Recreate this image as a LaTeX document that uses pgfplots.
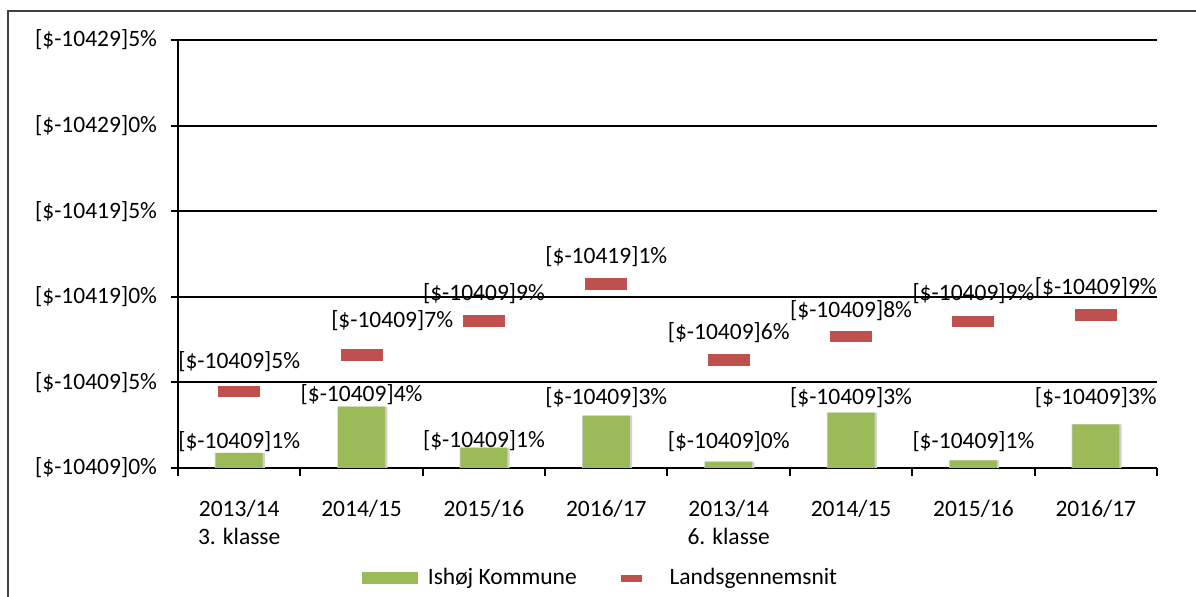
\documentclass[border=0pt]{standalone}
\usepackage{fontspec}
\setmainfont{Carlito}
\usepackage{pgfplots}
\pgfplotsset{compat=1.18}
\definecolor{barGreen}{HTML}{9BBB59}
\definecolor{barRed}{HTML}{C0504D}
\definecolor{frameGray}{HTML}{404040}
\pgfdeclareplotmark{redbar}{\pgfpathrectangle{\pgfpoint{-10.5pt}{-2.9pt}}{\pgfpoint{21pt}{5.8pt}}\pgfusepathqfill}
\newcommand{\lf}{\fontsize{11.75}{14}\selectfont}
\begin{document}
\begin{tikzpicture}
\useasboundingbox (0,0) rectangle (598pt,298.5pt);
\draw[frameGray, line width=1pt] (4pt,-2pt) -- (4pt,293pt) -- (600pt,293pt);
\begin{axis}[
  at={(89pt,64.5pt)}, anchor=south west,
  scale only axis, width=489.5pt, height=214pt,
  xmin=-0.5, xmax=7.5, ymin=0, ymax=25,
  axis lines*=left,
  axis line style={black, line width=1pt},
  tick align=outside,
  major tick length=3.5pt, minor tick length=4pt,
  tick style={black, line width=1pt},
  major x tick style={draw=none},
  xtick={0,1,2,3,4,5,6,7},
  minor xtick={-0.5,0.5,1.5,2.5,3.5,4.5,5.5,6.5,7.5},
  xticklabels={{2013/14\\3. klasse},{2014/15},{2015/16},{2016/17},{2013/14\\6. klasse},{2014/15},{2015/16},{2016/17}},
  xticklabel style={align=center, anchor=north, yshift=-9pt, font=\lf},
  ytick={0,5,10,15,20,25},
  yticklabels={{[\$-10409]0\%},{[\$-10409]5\%},{[\$-10419]0\%},{[\$-10419]5\%},{[\$-10429]0\%},{[\$-10429]5\%}},
  yticklabel style={font=\lf, anchor=east, xshift=-3.5pt},
  ymajorgrids, grid style={black, line width=1pt},
  clip=false,
  legend columns=2,
  legend style={at={(0.4326,-0.257)}, anchor=center, draw=none, fill=none, font=\lf,
    /tikz/every even column/.append style={column sep=11pt}},
  legend cell align=left,
]
\addplot[ybar, bar width=25pt, bar shift=0.4pt, fill=black!18, draw=none, forget plot] table {
x y
0 0.89
1 3.58
2 1.19
3 3.06
4 0.37
5 3.23
6 0.45
7 2.55
};
\addplot[ybar, bar width=23.5pt, bar shift=0pt, fill=barGreen, draw=none,
  legend image code/.code={\path (0pt,0pt) (31pt,0pt); \fill[barGreen] (0pt,-3pt) rectangle (28pt,3pt);}] table {
x y
0 0.89
1 3.58
2 1.19
3 3.06
4 0.37
5 3.23
6 0.45
7 2.55
};
\addlegendentry{Ishøj Kommune}
\addplot[only marks, mark=redbar, color=barRed,
  legend image code/.code={\path (0pt,0pt) (31pt,0pt); \fill[barRed] (9pt,-1.5pt) rectangle (19pt,1.5pt);}] table {
x y
0 4.47
1 6.61
2 8.57
3 10.76
4 6.32
5 7.67
6 8.55
7 8.95
};
\addlegendentry{Landsgennemsnit}
\addplot[only marks, mark=none, forget plot, point meta=explicit symbolic,
  nodes near coords={[\$-104\pgfplotspointmeta\%},
  every node near coord/.append style={anchor=center, font=\lf, text=black, inner sep=0pt}] table[meta=m] {
x y m
0 6.19 09]5
1.25 8.59 09]7
2 10.16 09]9
3 12.32 19]1
4 7.89 09]6
5 9.20 09]8
6 10.16 09]9
7 10.54 09]9
};
\addplot[only marks, mark=none, forget plot, point meta=explicit symbolic,
  nodes near coords={[\$-104\pgfplotspointmeta\%},
  every node near coord/.append style={anchor=center, font=\lf, text=black, inner sep=0pt}] table[meta=m] {
x y m
0 1.55 09]1
1 4.26 09]4
2 1.58 09]1
3 4.09 09]3
4 1.54 09]0
5 4.09 09]3
6 1.54 09]1
7 4.09 09]3
};
\end{axis}
\end{tikzpicture}
\end{document}
